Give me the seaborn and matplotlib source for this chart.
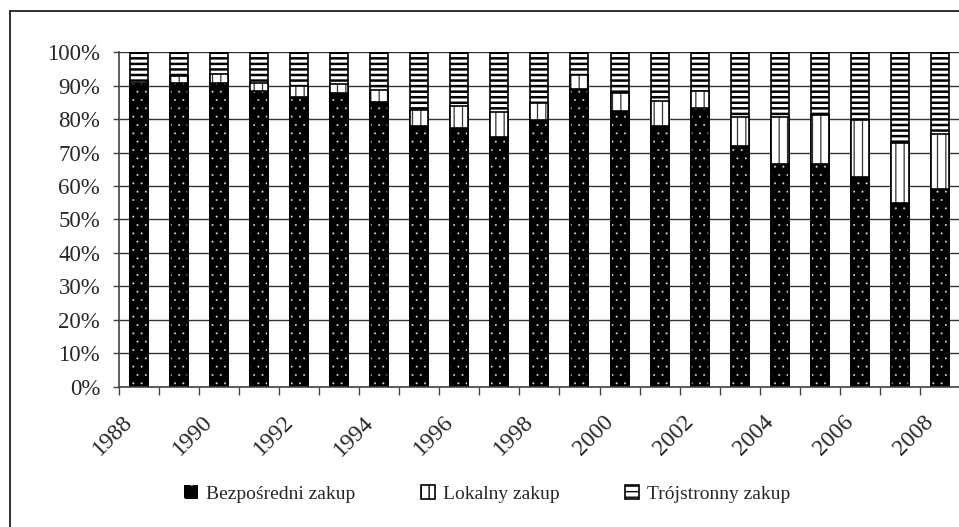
import numpy as np
import pandas as pd
import matplotlib
matplotlib.use('Agg')
import matplotlib.pyplot as plt
import matplotlib.transforms as mtransforms
import seaborn as sns
from matplotlib.patches import Patch
from matplotlib.lines import Line2D
from matplotlib.ticker import PercentFormatter

# udzial form zakupu (%)
years = [str(y) for y in range(1988, 2009)]
bezposredni = [90.7, 90.7, 90.7, 88.5, 86.7, 87.9, 85.2, 77.9, 77.4, 74.7, 79.7,
               89.1, 82.4, 78.0, 83.2, 71.9, 66.6, 66.6, 62.8, 55.0, 59.0]
lokalny = [0.8, 2.3, 2.9, 2.4, 3.2, 2.5, 3.5, 4.8, 6.6, 7.5, 5.2,
           4.0, 5.3, 7.4, 5.3, 8.6, 13.9, 14.6, 16.9, 17.9, 16.5]
trojstronny = [8.5, 7.0, 6.4, 9.1, 10.1, 9.6, 11.3, 17.3, 16.0, 17.8, 15.1,
               6.9, 12.3, 14.6, 11.5, 19.5, 19.5, 18.8, 20.3, 27.1, 24.5]
labels = ['Bezpośredni zakup', 'Lokalny zakup', 'Trójstronny zakup']

df = pd.DataFrame({'rok': years, 'B': bezposredni, 'L': lokalny, 'T': trojstronny})
df['cum_B'] = df['B']
df['cum_L'] = df['B'] + df['L']
df['cum_T'] = df['B'] + df['L'] + df['T']

sns.set_theme(style='white')
plt.rcParams['font.family'] = ['Liberation Serif', 'DejaVu Serif']
plt.rcParams['hatch.linewidth'] = 1.0

fig = plt.figure(figsize=(9.59, 5.27), dpi=100)
ax = fig.add_axes([0.124, 0.266, 0.877, 0.635])

# styles for each layer: (face, hatch colour, hatch, hatch linewidth)
styles = {
    'cum_T': ('white', 'black', '---', 1.8),
    'cum_L': ('white', '#333333', '||', 0.9),
    'cum_B': ('black', '#dddddd', '..', 0.2),
}

# stacked bars: draw cumulative totals, top layer first
for col in ['cum_T', 'cum_L', 'cum_B']:
    n0 = len(ax.patches)
    sns.barplot(data=df, x='rok', y=col, order=years, color='white',
                width=0.45, errorbar=None, ax=ax)
    face, hcol, hatch, hlw = styles[col]
    for p in ax.patches[n0:]:
        x, w, h = p.get_x(), p.get_width(), p.get_height()
        p.set_facecolor(face)
        p.set_edgecolor(hcol)
        p.set_hatch(hatch)
        p.set_linewidth(0)
        if hasattr(p, 'set_hatch_linewidth'):
            p.set_hatch_linewidth(hlw)
        # black outline on top
        ax.add_patch(plt.Rectangle((x, 0), w, h, fill=False, edgecolor='black',
                                   linewidth=1.2, zorder=p.get_zorder()))

ax.set_ylim(0, 100)
ax.set_xlim(-0.5, 20.5)
ax.set_yticks(np.arange(0, 101, 10))
ax.yaxis.set_major_formatter(PercentFormatter(decimals=0))
ax.set_xticks(range(0, 21, 2))
ax.set_xticklabels(years[::2], rotation=45, ha='right', va='top',
                   rotation_mode='anchor')
ax.set_xticks(np.arange(-0.5, 21, 1), minor=True)
ax.tick_params(axis='x', which='major', length=0, pad=18, labelsize=17)
ax.tick_params(axis='x', which='minor', length=6, width=1, color='#444444',
               direction='out', bottom=True)
ax.tick_params(axis='y', length=4.5, width=1, color='#444444', direction='out',
               left=True, labelsize=16.5, pad=9)
shift = mtransforms.ScaledTranslation(-12 / 72, 0, fig.dpi_scale_trans)
for lab in ax.get_xticklabels():
    lab.set_transform(lab.get_transform() + shift)
ax.set_xlabel('')
ax.set_ylabel('')
ax.grid(axis='y', color='#333333', linewidth=1.0)
ax.set_axisbelow(True)
for s in ['top', 'right']:
    ax.spines[s].set_visible(False)
for s in ['left', 'bottom']:
    ax.spines[s].set_color('#444444')
    ax.spines[s].set_linewidth(1.2)

# outer frame of the chart
fig.add_artist(Line2D([10 / 959, 10 / 959], [0, 1 - 11 / 527], color='#222222',
                      linewidth=1.3, transform=fig.transFigure))
fig.add_artist(Line2D([10 / 959, 1], [1 - 11 / 527, 1 - 11 / 527], color='#222222',
                      linewidth=1.3, transform=fig.transFigure))

handles = [
    Patch(facecolor='black', edgecolor='#dddddd', hatch='.', linewidth=0),
    Patch(facecolor='white', edgecolor='black', hatch='||', linewidth=1.2),
    Patch(facecolor='white', edgecolor='black', hatch='---', linewidth=1.2),
]
fig.legend(handles, labels, loc='center', bbox_to_anchor=(0.508, 0.063), ncol=3,
           frameon=False, fontsize=14, handlelength=0.7, handleheight=0.7,
           handletextpad=0.4, columnspacing=3.4)

fig.savefig('out.png', dpi=100)
